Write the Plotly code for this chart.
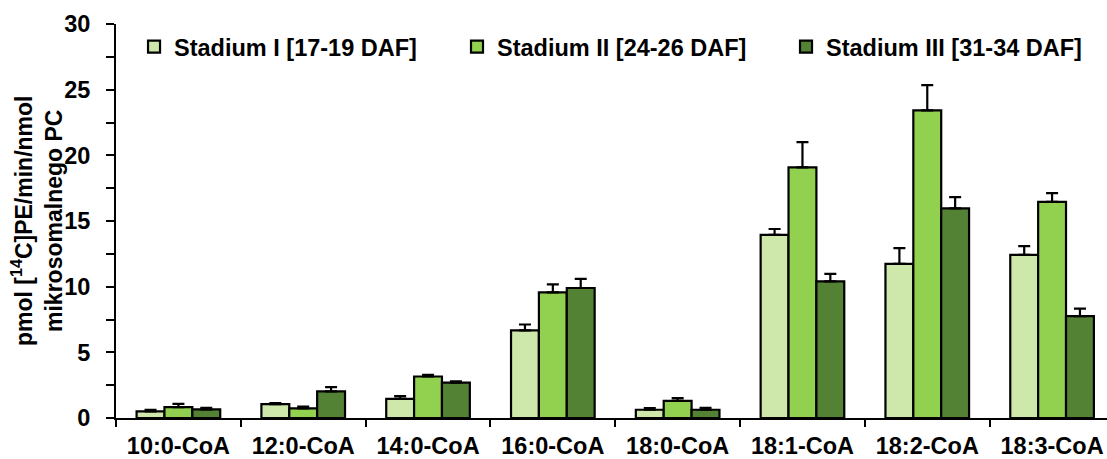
import plotly.graph_objects as go

categories = ["10:0-CoA", "12:0-CoA", "14:0-CoA", "16:0-CoA", "18:0-CoA", "18:1-CoA", "18:2-CoA", "18:3-CoA"]
series_names = ["Stadium I [17-19 DAF]", "Stadium II [24-26 DAF]", "Stadium III [31-34 DAF]"]
stage1 = [0.50, 1.06, 1.46, 6.67, 0.63, 13.94, 11.74, 12.42]
stage2 = [0.83, 0.73, 3.16, 9.57, 1.31, 19.09, 23.43, 16.46]
stage3 = [0.66, 2.02, 2.70, 9.90, 0.63, 10.40, 15.96, 7.75]
err1 = [0.13, 0.08, 0.21, 0.45, 0.13, 0.45, 1.19, 0.66]
err2 = [0.25, 0.13, 0.12, 0.60, 0.21, 1.91, 1.92, 0.66]
err3 = [0.12, 0.33, 0.10, 0.70, 0.15, 0.58, 0.86, 0.58]
colors = ["#CDE8AA", "#92D050", "#548235"]
y_title = "pmol [<sup>14</sup>C]PE/min/nmol<br>mikrosomalnego PC"

FONT = "Arial, Liberation Sans, sans-serif"
FS = 23.5

legend_ids = ["legend", "legend2", "legend3"]
legend_x = [0.0182, 0.3441, 0.6761]

fig = go.Figure()
for name, vals, errs, col, lid in zip(series_names, [stage1, stage2, stage3], [err1, err2, err3], colors, legend_ids):
    fig.add_trace(go.Bar(
        x=categories, y=vals, name=name, legend=lid,
        marker=dict(color=col, line=dict(color="black", width=2.2)),
        error_y=dict(type="data", array=errs, arrayminus=[0]*len(errs), symmetric=False,
                     color="black", thickness=2.2, width=6),
    ))

legend_common = dict(orientation="h", y=0.942, xanchor="left", yanchor="middle",
                     font=dict(family=FONT, size=FS, color="black", weight="bold"),
                     bgcolor="rgba(0,0,0,0)", itemclick=False, itemdoubleclick=False)

fig.update_layout(
    width=1107, height=459,
    margin=dict(l=116, r=0, t=24, b=39),
    paper_bgcolor="white", plot_bgcolor="white",
    barmode="group", bargap=0.33, bargroupgap=0,
    font=dict(family=FONT, size=FS, color="black"),
    showlegend=True,
    legend=dict(x=legend_x[0], **legend_common),
    legend2=dict(x=legend_x[1], **legend_common),
    legend3=dict(x=legend_x[2], **legend_common),
    xaxis=dict(
        type="category", range=[-0.5, 7.44],
        showline=True, linecolor="black", linewidth=2,
        ticks="outside", tickson="boundaries", ticklen=7, tickwidth=2, tickcolor="black",
        tickfont=dict(family=FONT, size=FS, color="black", weight="bold"),
        ticklabelstandoff=6,
        showgrid=False, zeroline=False,
    ),
    yaxis=dict(
        range=[0, 30], dtick=5, tick0=0,
        showline=True, linecolor="black", linewidth=2,
        ticks="outside", ticklen=8, tickwidth=2, tickcolor="black",
        minor=dict(dtick=2.5, ticks="outside", ticklen=8, tickwidth=2, tickcolor="black", showgrid=False),
        tickfont=dict(family=FONT, size=FS, color="black", weight="bold"),
        ticklabelstandoff=11,
        showgrid=False, zeroline=False,
    ),
    annotations=[dict(
        text=y_title, textangle=-90, showarrow=False,
        xref="paper", yref="paper", x=(37 - 116) / 991, y=0.5,
        xanchor="center", yanchor="middle",
        font=dict(family=FONT, size=23, color="black", weight="bold"),
    )],
)

fig.write_html("out.html", config={"displayModeBar": False},
               post_script="document.body.style.margin='0';")
